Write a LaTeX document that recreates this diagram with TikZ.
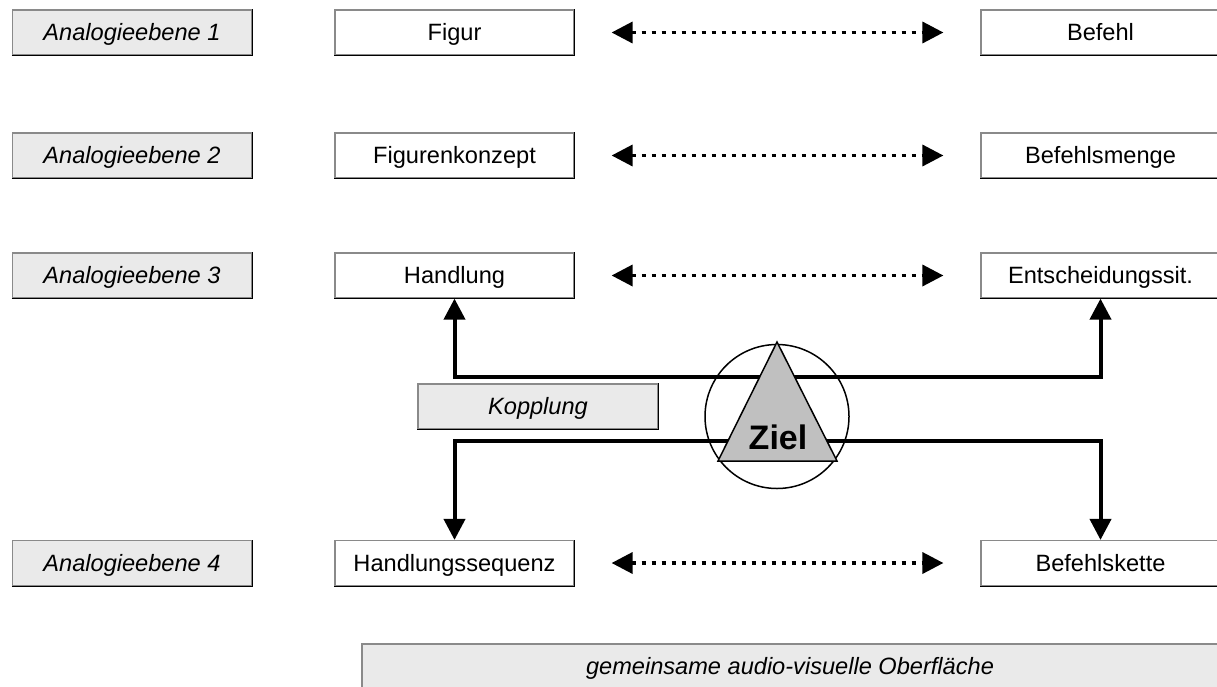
\documentclass[tikz,border=0pt]{standalone}
\usepackage{fontspec}
\setmainfont{Liberation Sans}
\usetikzlibrary{arrows.meta}
\definecolor{panel}{HTML}{EAEAEA}
\definecolor{rimgray}{HTML}{8A8A8A}
\definecolor{goalgray}{HTML}{C0C0C0}
\tikzset{
  txt/.style={font=\fontsize{23.6}{28}\selectfont, text height=16.9pt, text depth=0pt},
  box/.style={txt, draw=rimgray, line width=1.2pt, minimum width=239pt,
              minimum height=45pt, inner sep=0pt},
  level/.style={box, fill=panel, font=\fontsize{23.6}{28}\selectfont\itshape},
  item/.style={box, fill=white},
  rim/.style={draw=black, line width=1.2pt},
  link/.style={line width=3.5pt, dash pattern=on 4.5pt off 5.5pt, {Triangle[length=21pt,width=21pt]}-{Triangle[length=21pt,width=21pt]}},
  couple/.style={line width=4pt, {Triangle[length=21pt,width=21pt]}-{Triangle[length=21pt,width=21pt]}},
  thin/.style={draw=black, line width=1.5pt},
}
\begin{document}
\begin{tikzpicture}[x=1pt,y=-1pt]
\clip (0,0) rectangle (1217,686);

% analogy levels
\node[level] (l1) at (132,32.5)  {Analogieebene 1};
\node[level] (l2) at (132,155.5) {Analogieebene 2};
\node[level] (l3) at (132,275.5) {Analogieebene 3};
\node[level] (l4) at (132,563)   {Analogieebene 4};

% figure side
\node[item] (m1) at (454.5,32.5)  {Figur};
\node[item] (m2) at (454.5,155.5) {Figurenkonzept};
\node[item] (m3) at (454.5,275.5) {Handlung};
\node[item] (m4) at (454.5,563)   {Handlungssequenz};

% command side
\node[item] (r1) at (1100.5,32.5)  {Befehl};
\node[item] (r2) at (1100.5,155.5) {Befehlsmenge};
\node[item] (r3) at (1100.5,275.5) {Entscheidungssit.};
\node[item] (r4) at (1100.5,563)   {Befehlskette};

% coupling label and common surface
\node[level, minimum width=240pt] (kop) at (538,406.5) {Kopplung};
\node[level, minimum width=856pt] (surf) at (790,666.5) {gemeinsame audio-visuelle Oberfläche};

% darker lower and right edges of the boxes
\foreach \n in {l1,l2,l3,l4,m1,m2,m3,m4,r1,r2,r3,r4,kop,surf}
  \draw[rim] (\n.south west) -- (\n.south east) -- (\n.north east);

% analogies between the two sides
\foreach \i in {1,2,3,4}
  \draw[link] ([xshift=37pt]m\i.east) -- ([xshift=-37pt]r\i.west);

% coupling lines
\coordinate (hiY) at (0,377);
\coordinate (loY) at (0,441);
\draw[couple] (m3.south) -- (m3.south |- hiY) -- (r3.south |- hiY) -- (r3.south);
\draw[couple] (m4.north) -- (m4.north |- loY) -- (r4.north |- loY) -- (r4.north);

% goal symbol
\node[circle, thin, minimum size=144pt, inner sep=0pt] (ring) at (777,416.5) {};
\coordinate (apex) at (777,342);
\coordinate (bl) at (718,461);
\coordinate (br) at (837,461);
\draw[thin, fill=goalgray] (apex) -- (br) -- (bl) -- cycle;
\node[anchor=base, inner sep=0pt, font=\fontsize{34}{40}\selectfont\bfseries] (goal) at (778,449) {Ziel};
\end{tikzpicture}
\end{document}
